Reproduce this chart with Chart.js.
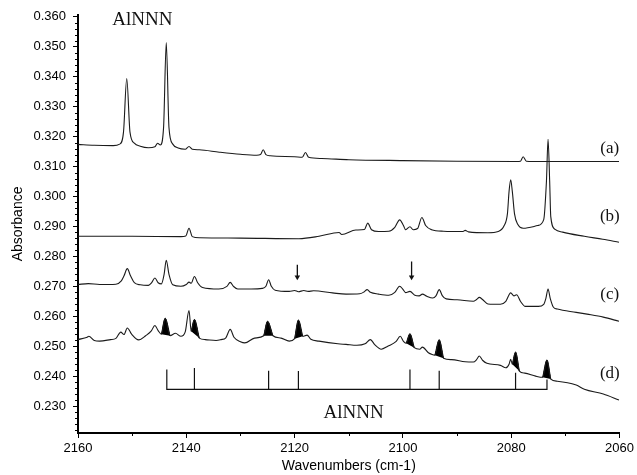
<!DOCTYPE html>
<html>
<head>
<meta charset="utf-8">
<script src="https://cdn.jsdelivr.net/npm/chart.js@4.4.1/dist/chart.umd.min.js"></script>
<style>
  body { margin: 0; background: #fff; }
  #wrap { width: 637px; height: 475px; }
</style>
</head>
<body>
<div id="wrap"><canvas id="myChart" width="637" height="475"></canvas></div>
<script>
// spectra: [wavenumber, absorbance]
const traceA = [
  [2160, 0.3174], [2157, 0.3171], [2153.5, 0.3170], [2152.3, 0.3175], [2151.6, 0.3215],
  [2151.0, 0.3394], [2150.4, 0.3215], [2149.6, 0.3178], [2148.5, 0.3168], [2147, 0.3163],
  [2145.8, 0.3166], [2145.3, 0.3178], [2144.8, 0.3172], [2144.2, 0.3230], [2143.7, 0.3514],
  [2143.2, 0.3230], [2142.5, 0.3175], [2141.5, 0.3162], [2140.2, 0.3158], [2139.5, 0.3167],
  [2138.9, 0.3158], [2137.6, 0.3156], [2133.9, 0.3148], [2130, 0.3141], [2127, 0.3138],
  [2126.3, 0.3140], [2125.8, 0.3156], [2125.3, 0.3140], [2124.5, 0.3136], [2120, 0.3133],
  [2118.6, 0.3131], [2118.0, 0.3147], [2117.4, 0.3131], [2115, 0.3127], [2110, 0.3123],
  [2100, 0.3120], [2090, 0.3118], [2079, 0.3117], [2078.3, 0.3118], [2077.8, 0.3133],
  [2077.2, 0.3118], [2076, 0.3117], [2060.1, 0.3117]
];
const traceB = [
  [2160, 0.2867], [2150, 0.2867], [2141, 0.2866], [2140.1, 0.2868], [2139.5, 0.2894],
  [2138.9, 0.2866], [2137.5, 0.2862], [2130, 0.2861], [2119.2, 0.2859], [2115.5, 0.2867],
  [2111.8, 0.2880], [2111.3, 0.2873], [2108.7, 0.2888], [2107.1, 0.2890], [2106.5, 0.2911],
  [2105.8, 0.2889], [2104.5, 0.2883], [2102.6, 0.2884], [2101.5, 0.2897], [2100.6, 0.2922],
  [2099.9, 0.2903], [2099.5, 0.2889], [2098.7, 0.2899], [2098.1, 0.2889], [2097.3, 0.2893],
  [2096.5, 0.2930], [2095.8, 0.2903], [2094.7, 0.2889], [2092.5, 0.2884], [2088.9, 0.2883],
  [2088.5, 0.2887], [2087.9, 0.2882], [2084.3, 0.2879], [2082.4, 0.2883], [2081.3, 0.2903],
  [2080.7, 0.2943], [2080.4, 0.3017], [2080.1, 0.3056], [2079.8, 0.3017], [2079.4, 0.2943],
  [2078.8, 0.2907], [2077.8, 0.2894], [2075.1, 0.2903], [2074.0, 0.2923], [2073.5, 0.3050],
  [2073.2, 0.3191], [2072.9, 0.3050], [2072.7, 0.2933], [2071.9, 0.2890], [2070.5, 0.2881],
  [2066.5, 0.2867], [2063.1, 0.2857], [2060.1, 0.2847]
];
const traceC = [
  [2160, 0.2706], [2158.1, 0.2709], [2156, 0.2706], [2153, 0.2707], [2152, 0.2718],
  [2151.5, 0.2735], [2150.9, 0.2759], [2150.3, 0.2735], [2149.6, 0.2712], [2148.5, 0.2705],
  [2147, 0.2703], [2146.4, 0.2712], [2145.8, 0.2728], [2145.2, 0.2712], [2144.6, 0.2708],
  [2144.1, 0.2740], [2143.7, 0.2787], [2143.2, 0.2740], [2142.5, 0.2705], [2141.0, 0.2700],
  [2140.0, 0.2706], [2139.5, 0.2714], [2139.1, 0.2710], [2138.5, 0.2733], [2137.9, 0.2712],
  [2137.0, 0.2696], [2134, 0.2691], [2132.5, 0.2700], [2131.9, 0.2713], [2131.3, 0.2700],
  [2130.5, 0.2691], [2128, 0.2691], [2126, 0.2693], [2125.3, 0.2700], [2124.8, 0.2722],
  [2124.3, 0.2700], [2123.6, 0.2687], [2121, 0.2683], [2120, 0.2686], [2119.3, 0.2682],
  [2118.3, 0.2686], [2117.5, 0.2683], [2116.5, 0.2685], [2113, 0.2678], [2110.5, 0.2674],
  [2108, 0.2675], [2107.2, 0.2681], [2106.6, 0.2689], [2106.0, 0.2680], [2104.5, 0.2674],
  [2102.6, 0.2670], [2101.5, 0.2680], [2100.6, 0.2700], [2100.0, 0.2690], [2099.5, 0.2679],
  [2098.7, 0.2683], [2097.8, 0.2670], [2097.0, 0.2668], [2096.4, 0.2674], [2095.6, 0.2667],
  [2094.5, 0.2661], [2093.9, 0.2668], [2093.3, 0.2689], [2092.7, 0.2668], [2092, 0.2658],
  [2090, 0.2655], [2087, 0.2650], [2086.4, 0.2656], [2085.9, 0.2663], [2085.3, 0.2656],
  [2084.3, 0.2641], [2082, 0.2640], [2081, 0.2650], [2080.1, 0.2678], [2079.5, 0.2668],
  [2079.0, 0.2672], [2078.3, 0.2650], [2077.4, 0.2633], [2075.0, 0.2633], [2074.0, 0.2640],
  [2073.6, 0.2660], [2073.2, 0.2691], [2072.8, 0.2660], [2072.2, 0.2630], [2071.5, 0.2624],
  [2068, 0.2613], [2066, 0.2607], [2063, 0.2597], [2060.1, 0.2583]
];
const traceD = [
  [2160, 0.2522], [2158.3, 0.2530], [2158.0, 0.2533], [2157.0, 0.2519], [2156, 0.2517],
  [2154, 0.2522], [2153, 0.2526], [2152.1, 0.2547], [2151.5, 0.2539], [2150.9, 0.2561],
  [2150.1, 0.2540], [2148.8, 0.2521], [2147.5, 0.2535], [2146.5, 0.2550], [2145.8, 0.2569],
  [2145.2, 0.2552], [2144.6, 0.2540], [2143.9, 0.2593], [2143.0, 0.2535], [2142.0, 0.2543],
  [2141.0, 0.2533], [2140.2, 0.2548], [2139.5, 0.2619], [2139.1, 0.2550], [2138.5, 0.2589],
  [2137.6, 0.2527], [2136.5, 0.2522], [2134.5, 0.2519], [2133.6, 0.2522],
  [2132.7, 0.2528], [2131.9, 0.2556], [2131.2, 0.2530], [2130, 0.2515], [2129.2, 0.2511],
  [2127.4, 0.2527], [2125.7, 0.2535], [2125.0, 0.2583], [2124.0, 0.2535], [2122.5, 0.2527],
  [2121, 0.2517], [2120.0, 0.2525], [2119.3, 0.2587], [2118.5, 0.2533], [2117.7, 0.2537],
  [2117, 0.2523], [2115.5, 0.2517], [2112, 0.2508], [2110.5, 0.2506], [2108.5, 0.2503],
  [2107, 0.2508], [2106.0, 0.2522], [2105.2, 0.2505], [2104, 0.2490], [2102.8, 0.2500],
  [2101.3, 0.2515], [2100.5, 0.2533], [2099.9, 0.2516], [2099.4, 0.2510], [2098.7, 0.2541],
  [2097.9, 0.2495], [2096.9, 0.2490], [2096.4, 0.2497], [2095.3, 0.2478], [2094.6, 0.2472],
  [2094.1, 0.2470], [2093.3, 0.2521], [2092.5, 0.2460], [2091, 0.2455], [2088.5, 0.2448],
  [2087, 0.2447], [2086.4, 0.2455], [2085.9, 0.2467], [2085.3, 0.2453], [2084.5, 0.2443],
  [2082, 0.2436], [2081, 0.2428], [2080.4, 0.2440], [2080.1, 0.2456], [2079.8, 0.2440],
  [2079.2, 0.2480], [2078.5, 0.2417], [2077.5, 0.2410], [2075.5, 0.2400], [2074.2, 0.2396],
  [2073.4, 0.2454], [2072.7, 0.2390], [2071.5, 0.2383], [2068, 0.2370], [2066.5, 0.2356],
  [2063, 0.2340], [2060.1, 0.2320]
];
// blackened AlNNN bands in trace (d): left foot, top, right foot
const filledPeaks = [
  [[2144.6, 0.2540], [2143.9, 0.2593], [2143.0, 0.2535]],
  [[2139.1, 0.2550], [2138.5, 0.2589], [2137.6, 0.2527]],
  [[2125.7, 0.2535], [2125.0, 0.2583], [2124.0, 0.2535]],
  [[2120.0, 0.2525], [2119.3, 0.2587], [2118.5, 0.2533]],
  [[2099.4, 0.2510], [2098.7, 0.2541], [2097.9, 0.2495]],
  [[2094.1, 0.2470], [2093.3, 0.2521], [2092.5, 0.2460]],
  [[2079.8, 0.2440], [2079.2, 0.2480], [2078.5, 0.2417]],
  [[2074.2, 0.2396], [2073.4, 0.2454], [2072.7, 0.2390]]
];
// stick spectrum under (d)
const stickX = [2143.6, 2138.5, 2124.8, 2119.3, 2098.7, 2093.3, 2079.2, 2073.4];
const stickTop = [0.2422, 0.2427, 0.2418, 0.2417, 0.2422, 0.2418, 0.2411, 0.2389];
const stickBase = 0.2356;
// arrows over trace (c)
const arrowX = [2119.5, 2098.4];
const arrowFrom = [0.2772, 0.2783];
const arrowTo = [0.2731, 0.2731];

const xTicks = [2160, 2140, 2120, 2100, 2080, 2060];
const yTicks = [0.230, 0.240, 0.250, 0.260, 0.270, 0.280, 0.290, 0.300, 0.310, 0.320, 0.330, 0.340, 0.350, 0.360];
const traceLabels = ['(a)', '(b)', '(c)', '(d)'];

const toXY = arr => arr.map(p => ({x: p[0], y: p[1]}));
const ink = '#1b1b1b';

const datasets = [];
[traceA, traceB, traceC, traceD].forEach(t => {
    datasets.push({data: toXY(t), borderColor: ink, borderWidth: 1.1, pointRadius: 0,
        cubicInterpolationMode: 'monotone'});
});
filledPeaks.forEach(fp => {
    datasets.push({data: toXY(fp), borderColor: '#000', backgroundColor: '#000', borderWidth: 1,
        pointRadius: 0, fill: 'shape', cubicInterpolationMode: 'monotone'});
});

let sticks = [];
let last = stickX.length - 1;
sticks.push({x: stickX[0], y: stickTop[0]}, {x: stickX[0], y: stickBase},
    {x: stickX[last], y: stickBase}, {x: stickX[last], y: stickTop[last]}, {x: stickX[last], y: null});
for (let i = 1; i < last; i++) {
    sticks.push({x: stickX[i], y: stickBase}, {x: stickX[i], y: stickTop[i]}, {x: stickX[i], y: null});
}
datasets.push({data: sticks, borderColor: '#111', borderWidth: 1.2, pointRadius: 0, spanGaps: false});

arrowX.forEach((ax, i) => {
    datasets.push({
        data: [{x: ax, y: arrowFrom[i]}, {x: ax, y: arrowTo[i]}],
        borderColor: '#111', borderWidth: 1.3,
        pointRadius: [0, 3.2], pointStyle: 'triangle', pointRotation: 180,
        pointBackgroundColor: '#111', pointBorderColor: '#111', pointBorderWidth: 0
    });
});

// small minor ticks and the text annotations
const extras = {
    id: 'extras',
    afterDraw(chart) {
        const {ctx, chartArea} = chart;
        const xs = chart.scales.x, ys = chart.scales.y;
        ctx.save();
        ctx.strokeStyle = '#000';
        ctx.lineWidth = 1;
        ctx.beginPath();
        for (let i = 111; i <= 180; i++) {
            if (i % 5 === 0) continue;
            let py = Math.round(ys.getPixelForValue(i * 0.002)) + 0.5;
            ctx.moveTo(chartArea.left - 3, py);
            ctx.lineTo(chartArea.left, py);
        }
        for (let v = 2150; v > 2060; v -= 20) {
            let px = Math.round(xs.getPixelForValue(v)) + 0.5;
            ctx.moveTo(px, chartArea.bottom);
            ctx.lineTo(px, chartArea.bottom + 3);
        }
        ctx.stroke();

        ctx.fillStyle = '#111';
        ctx.textAlign = 'center';
        ctx.textBaseline = 'middle';
        ctx.font = '19px "Liberation Serif", "Times New Roman", serif';
        ctx.fillText('AlNNN', xs.getPixelForValue(2148.1), ys.getPixelForValue(0.3589));
        ctx.fillText('AlNNN', xs.getPixelForValue(2109.1), ys.getPixelForValue(0.2278));
        ctx.font = '17px "Liberation Serif", "Times New Roman", serif';
        const labelY = [0.3160, 0.2933, 0.2673, 0.2407];
        traceLabels.forEach((t, i) => {
            ctx.fillText(t, xs.getPixelForValue(2061.8), ys.getPixelForValue(labelY[i]));
        });
        ctx.restore();
    }
};

const tickFont = {family: '"Liberation Sans", Arial, sans-serif', size: 13};
const titleFont = {family: '"Liberation Sans", Arial, sans-serif', size: 14};

const ctx = document.getElementById('myChart').getContext('2d');
const myChart = new Chart(ctx, {
    type: 'line',
    data: {datasets: datasets},
    plugins: [extras],
    options: {
        responsive: false,
        animation: false,
        layout: {padding: {left: 0, right: 15, top: 13, bottom: 0}},
        plugins: {legend: {display: false}, tooltip: {enabled: false}},
        scales: {
            x: {
                type: 'linear', reverse: true, min: 2060, max: 2160,
                afterBuildTicks: (axis) => { axis.ticks = xTicks.map(v => ({value: v})); },
                afterFit: (scale) => { scale.height = 42; },
                ticks: {font: tickFont, color: '#000', padding: 3, maxRotation: 0,
                    callback: (v) => String(v)},
                grid: {drawOnChartArea: false, tickLength: 5, color: '#000'},
                border: {color: '#000', width: 2},
                title: {display: true, text: 'Wavenumbers (cm-1)', font: titleFont, color: '#000',
                    padding: {top: 0, bottom: 0}}
            },
            y: {
                type: 'linear', min: 0.221, max: 0.3607,
                afterBuildTicks: (axis) => { axis.ticks = yTicks.map(v => ({value: v})); },
                afterFit: (scale) => { scale.width = 78; },
                ticks: {font: tickFont, color: '#000', padding: 7,
                    callback: (v) => Number(v).toFixed(3)},
                grid: {drawOnChartArea: false, tickLength: 5, color: '#000'},
                border: {color: '#000', width: 2},
                title: {display: true, text: 'Absorbance', font: titleFont, color: '#000',
                    padding: {top: 10, bottom: 0}}
            }
        }
    }
});
</script>
</body>
</html>
